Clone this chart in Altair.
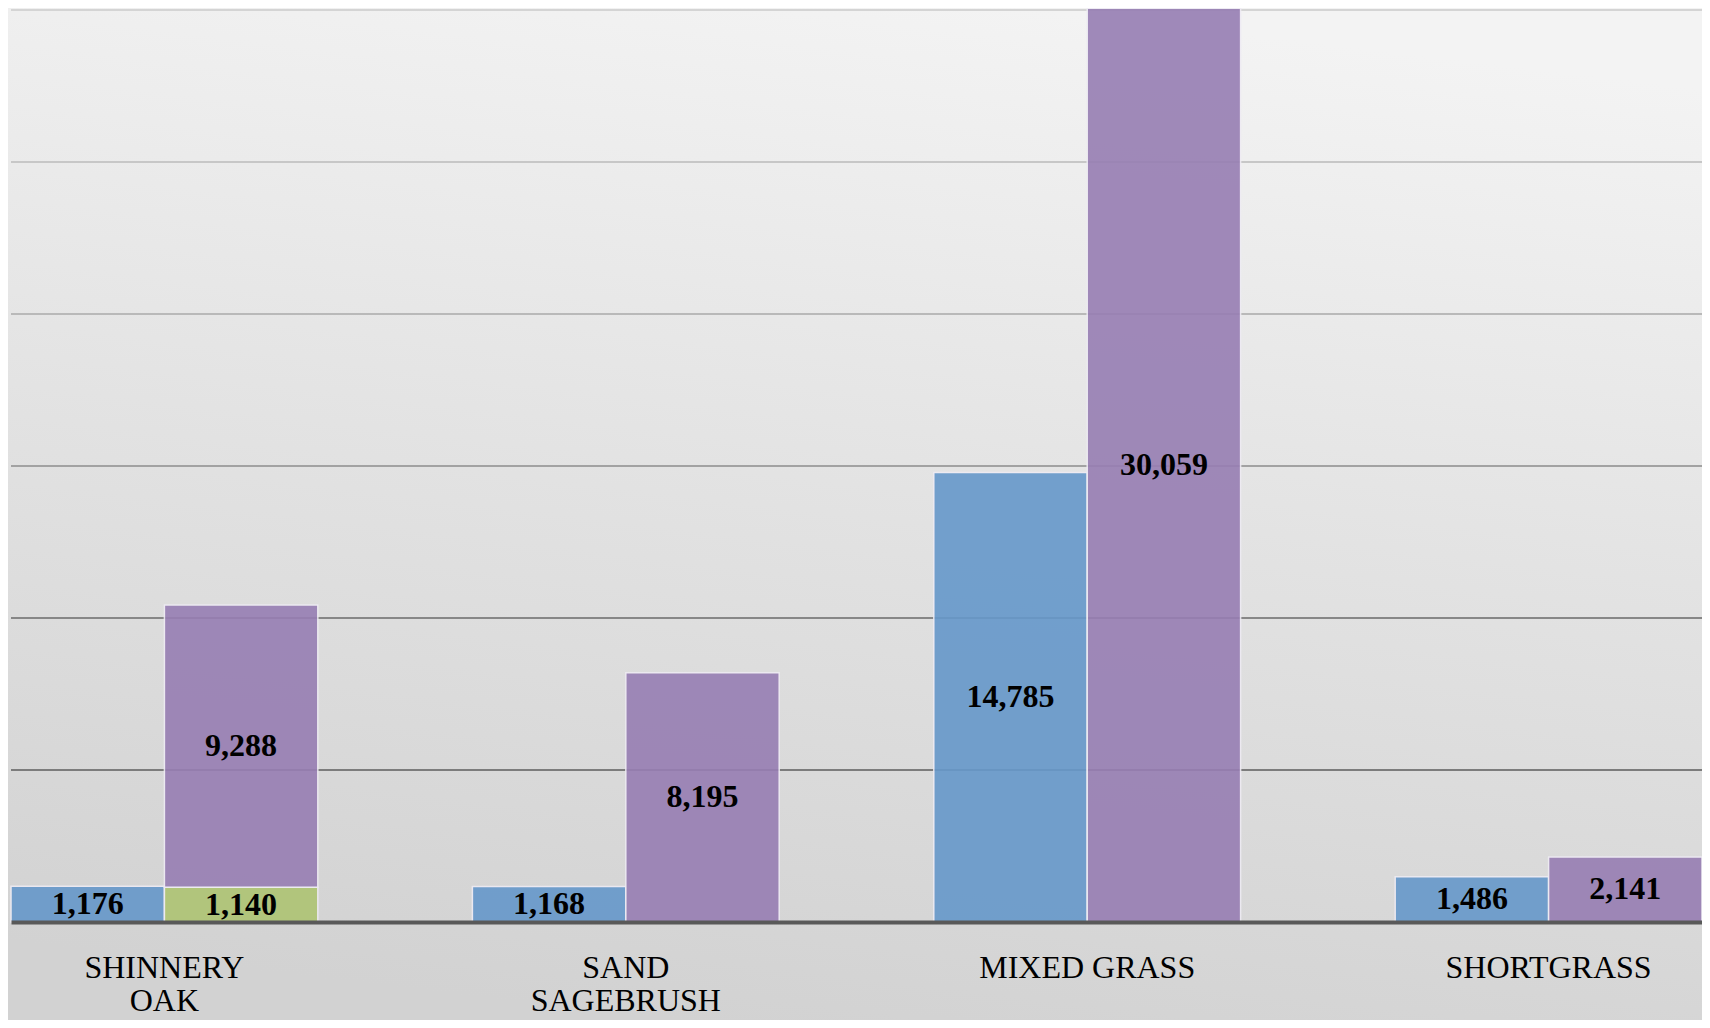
import json
import altair as alt
import pandas as pd

# ---------------- data ----------------
categories = ["SHINNERY OAK", "SAND SAGEBRUSH", "MIXED GRASS", "SHORTGRASS"]
label_lines = [["SHINNERY", "OAK"], ["SAND", "SAGEBRUSH"], ["MIXED GRASS"], ["SHORTGRASS"]]

series_names = ["Series A", "Series B", "Series C"]   # blue, green, purple
series_a = [1176, 1168, 14785, 1486]
series_b = [1140, 0, 0, 0]
series_c = [9288, 8195, 30059, 2141]
series_slot = ["left", "right", "right"]
series_colors = ["#6698ca", "#aec473", "#977eb3"]

grid_values = [5000, 10000, 15000, 20000, 25000, 30000]
grid_colors = ["#7c7c7c", "#878787", "#a2a2a2", "#b9b9b9", "#c7c7c7", "#d4d4d4"]

rows = []
for j, vals in enumerate([series_a, series_b, series_c]):
    for i, cat in enumerate(categories):
        if vals[i] > 0:
            rows.append({"category": cat, "series": series_names[j],
                         "slot": series_slot[j], "order": j, "value": vals[i]})
df = pd.DataFrame(rows)
grid_df = pd.DataFrame({"v": grid_values, "c": grid_colors})

W, H = 1691, 912

# label expression for wrapped category names
expr = "datum.label"
for cat, lines in reversed(list(zip(categories, label_lines))):
    expr = f"datum.label == '{cat}' ? {json.dumps(lines)} : ({expr})"

yscale = alt.Scale(domain=[0, 30000], nice=False, zero=True)
xscale = alt.Scale(domain=categories, paddingInner=0.335, paddingOuter=0)
xoff_scale = alt.Scale(domain=["left", "right"], paddingInner=0, paddingOuter=0)

x_axis = alt.Axis(title=None, labelAngle=0, ticks=False, labelExpr=expr,
                  labelFont="Liberation Serif", labelFontSize=32,
                  labelColor="#000000", labelPadding=30,
                  labelBaseline="top", labelLineHeight=33, labelLimit=1000,
                  domainColor="#595959", domainWidth=4, grid=False, zindex=1)

gradient = alt.LinearGradient(
    gradient="linear",
    stops=[alt.GradientStop(color="#f3f3f3", offset=0),
           alt.GradientStop(color="#e2e2e2", offset=0.5),
           alt.GradientStop(color="#d2d2d2", offset=1)],
    x1=0.6, x2=0.4, y1=0, y2=1,
)

bg = alt.Chart(pd.DataFrame({"k": [0]})).mark_rect(fill=gradient).encode(
    x=alt.value(-3), x2=alt.value(W + 3), y=alt.value(-2), y2=alt.value(H + 100)
)

grid = alt.Chart(grid_df).mark_rule(strokeWidth=2).encode(
    y=alt.Y("v:Q", scale=yscale, axis=None),
    color=alt.Color("c:N", scale=None, legend=None),
)

base = alt.Chart(df).transform_stack(
    stack="value", groupby=["category", "slot"], as_=["y0", "y1"],
    sort=[alt.SortField("order", order="ascending")],
).transform_calculate(mid="(datum.y0 + datum.y1) / 2")

bars = base.mark_bar(opacity=0.9, stroke="#eeebf3", strokeWidth=1.5).encode(
    x=alt.X("category:N", scale=xscale, sort=categories, axis=x_axis),
    xOffset=alt.XOffset("slot:N", scale=xoff_scale),
    y=alt.Y("y0:Q", scale=yscale, axis=None),
    y2="y1:Q",
    color=alt.Color("series:N", scale=alt.Scale(domain=series_names, range=series_colors),
                    legend=None),
)

labels = base.mark_text(font="Liberation Serif", fontWeight="bold", fontSize=32,
                        baseline="middle", align="center", color="#000000").encode(
    x=alt.X("category:N", scale=xscale, sort=categories, axis=x_axis),
    xOffset=alt.XOffset("slot:N", scale=xoff_scale),
    y=alt.Y("mid:Q", scale=yscale, axis=None),
    text=alt.Text("value:Q", format=","),
)

chart = alt.layer(bg, grid, bars, labels).resolve_scale(color="independent").properties(
    width=W, height=H,
    autosize=alt.AutoSizeParams(type="none"),
    padding={"left": 3, "right": 0, "top": 2, "bottom": 98},
    background="#d8d8d8",
).configure_view(stroke=None)

chart.save("out.html", embed_options={"renderer": "svg", "actions": False})
